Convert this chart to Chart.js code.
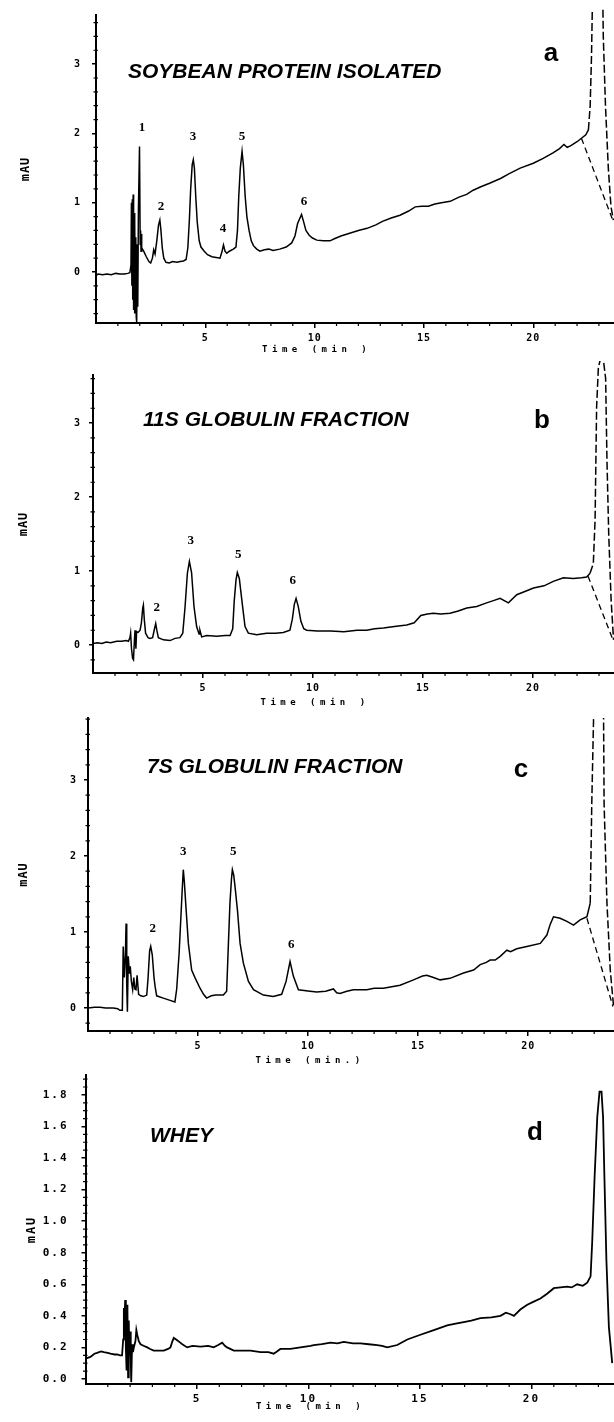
<!DOCTYPE html>
<html>
<head>
<meta charset="utf-8">
<script src="https://cdn.jsdelivr.net/npm/chart.js@4.4.1/dist/chart.umd.min.js"></script>
<style>
html,body{margin:0;padding:0;background:#fff;}
#wrap{position:relative;width:614px;height:1422px;overflow:hidden;background:#fff;}
canvas{position:absolute;left:0;}
</style>
</head>
<body>
<div id="wrap">
<canvas id="pa"></canvas>
<canvas id="pb"></canvas>
<canvas id="pc"></canvas>
<canvas id="pd"></canvas>
</div>
<script>
// ---------- tick labels ----------
const timeTicks = [5, 10, 15, 20];
const timeMinorTicks = [1,2,3,4,6,7,8,9,11,12,13,14,16,17,18,19,21,22,23];
const auTicks = [0, 1, 2, 3];
const auMinorTicks = [-0.6,-0.4,-0.2,0.2,0.4,0.6,0.8,1.2,1.4,1.6,1.8,2.2,2.4,2.6,2.8,3.2,3.4,3.6,3.8];
const wheyTicks = [0, 0.2, 0.4, 0.6, 0.8, 1.0, 1.2, 1.4, 1.6, 1.8];
const wheyMinorTicks = [0.05,0.1,0.15,0.25,0.3,0.35,0.45,0.5,0.55,0.65,0.7,0.75,0.85,0.9,0.95,1.05,1.1,1.15,1.25,1.3,1.35,1.45,1.5,1.55,1.65,1.7,1.75,1.85,1.9];

// ---------- (a) soybean protein isolated : [time min, mAU] ----------
const traceA = [[0,-0.05],[0.1,-0.03],[0.3,-0.04],[0.5,-0.03],[0.7,-0.04],[0.9,-0.02],[1.1,-0.03],[1.3,-0.03],[1.45,-0.02],[1.55,-0.01],
[1.6,0.1],[1.62,1.0],[1.64,-0.2],[1.66,1.05],[1.68,-0.4],[1.7,1.12],[1.72,-0.55],[1.74,0.85],[1.76,-0.6],[1.78,0.7],[1.8,-0.4],[1.82,0.5],[1.84,-0.65],[1.86,-0.72],[1.89,0.4],[1.91,-0.5],[1.94,0.9],[1.99,1.81],[2.02,0.4],[2.04,0.6],[2.06,0.3],[2.08,0.55],[2.1,0.35],
[2.18,0.3],[2.3,0.22],[2.42,0.15],[2.5,0.13],[2.58,0.2],[2.64,0.32],[2.7,0.26],[2.78,0.45],[2.86,0.68],[2.92,0.75],[2.97,0.6],[3.03,0.35],[3.1,0.2],[3.2,0.14],[3.35,0.13],[3.5,0.15],[3.7,0.14],[3.85,0.15],[4.0,0.16],[4.12,0.18],
[4.2,0.35],[4.27,0.75],[4.33,1.2],[4.4,1.55],[4.45,1.62],[4.5,1.5],[4.56,1.1],[4.63,0.72],[4.72,0.45],[4.8,0.36],[4.95,0.3],[5.1,0.25],[5.3,0.22],[5.5,0.21],[5.67,0.2],[5.75,0.28],[5.83,0.39],[5.9,0.3],[5.98,0.27],[6.1,0.3],[6.28,0.33],[6.4,0.36],
[6.47,0.6],[6.53,1.1],[6.6,1.5],[6.68,1.74],[6.74,1.55],[6.82,1.1],[6.9,0.8],[7.0,0.6],[7.1,0.45],[7.2,0.38],[7.35,0.33],[7.5,0.3],[7.7,0.32],[7.9,0.33],[8.1,0.31],[8.4,0.33],[8.7,0.36],[8.95,0.42],[9.1,0.52],[9.22,0.7],[9.4,0.83],[9.5,0.72],[9.6,0.6],[9.75,0.53],[9.9,0.49],
[10.1,0.46],[10.4,0.45],[10.7,0.45],[10.9,0.48],[11.2,0.52],[11.6,0.56],[12.0,0.6],[12.4,0.63],[12.8,0.68],[13.1,0.73],[13.5,0.78],[13.9,0.82],[14.3,0.88],[14.6,0.94],[14.9,0.95],[15.2,0.95],[15.5,0.98],[15.8,1.0],[16.2,1.02],[16.6,1.08],[16.95,1.12],[17.25,1.18],
[17.6,1.23],[18.0,1.28],[18.5,1.35],[18.9,1.42],[19.4,1.5],[20.0,1.57],[20.45,1.64],[20.9,1.72],[21.2,1.78],[21.4,1.84],[21.55,1.8],[21.7,1.82],[22.0,1.88],[22.2,1.93],[22.4,1.98],[22.52,2.05]];
const peakA = [[22.52,2.05],[22.6,2.4],[22.66,3.1],[22.72,4.2],[22.75,4.6],[23.15,4.6],[23.2,3.4],[23.3,2.4],[23.43,1.5],[23.55,0.95],[23.66,0.75]];
const baseA = [[22.2,1.93],[23.62,0.76]];
const peakNumsA = ['1','2','3','4','5','6'];
const peakLabelTimesA = [2.1, 2.97, 4.44, 5.81, 6.68, 9.51];
const peakLabelAUA = [2.08, 0.94, 1.96, 0.63, 1.95, 1.01];

// ---------- (b) 11S globulin fraction ----------
const traceB = [[0,0.02],[0.2,0.03],[0.4,0.02],[0.6,0.04],[0.8,0.03],[1.08,0.05],[1.3,0.05],[1.5,0.06],[1.61,0.05],[1.68,0.1],[1.71,0.16],[1.75,-0.05],[1.8,-0.18],[1.84,-0.2],[1.88,0.05],[1.91,0.2],[1.95,-0.05],[1.98,0.18],[2.05,0.17],[2.14,0.2],
[2.2,0.3],[2.26,0.5],[2.29,0.54],[2.33,0.35],[2.39,0.16],[2.5,0.1],[2.59,0.09],[2.71,0.1],[2.78,0.2],[2.85,0.29],[2.9,0.2],[2.97,0.1],[3.2,0.07],[3.5,0.06],[3.73,0.09],[3.95,0.1],[4.08,0.16],
[4.18,0.5],[4.29,0.97],[4.38,1.13],[4.48,0.98],[4.59,0.52],[4.71,0.25],[4.82,0.15],[4.86,0.2],[4.94,0.11],[5.17,0.13],[5.62,0.12],[6.0,0.13],[6.23,0.13],[6.35,0.22],[6.42,0.6],[6.5,0.88],[6.56,0.98],[6.65,0.9],[6.8,0.52],[6.91,0.25],[7.06,0.16],
[7.44,0.14],[7.89,0.16],[8.3,0.16],[8.65,0.17],[8.95,0.2],[9.06,0.35],[9.15,0.55],[9.23,0.63],[9.33,0.52],[9.45,0.32],[9.58,0.22],[9.71,0.2],[10.2,0.19],[10.8,0.19],[11.4,0.18],[12.0,0.2],[12.44,0.2],[12.8,0.22],[13.2,0.23],[13.7,0.25],[14.26,0.27],
[14.6,0.3],[14.9,0.4],[15.2,0.42],[15.47,0.43],[15.8,0.42],[16.23,0.43],[16.6,0.46],[16.99,0.5],[17.44,0.52],[17.89,0.57],[18.2,0.6],[18.5,0.63],[18.88,0.57],[19.26,0.68],[19.6,0.72],[20.02,0.77],[20.5,0.8],[20.92,0.86],[21.38,0.91],[21.83,0.9],[22.2,0.91],[22.44,0.92],[22.59,0.97]];
const peakB = [[22.59,0.97],[22.74,1.1],[22.82,1.69],[22.89,3.22],[22.97,3.75],[23.05,3.85],[23.2,3.85],[23.3,3.6],[23.36,2.5],[23.44,1.5],[23.55,0.6],[23.66,0.07]];
const baseB = [[22.5,0.93],[23.66,0.05]];
const peakNumsB = ['2','3','5','6'];
const peakLabelTimesB = [2.9, 4.44, 6.6, 9.08];
const peakLabelAUB = [0.5, 1.41, 1.22, 0.87];

// ---------- (c) 7S globulin fraction ----------
const traceC = [[0,0.0],[0.3,0.01],[0.55,0.01],[0.8,0.0],[1.15,0.0],[1.35,-0.01],[1.45,-0.03],[1.56,-0.03],[1.6,0.81],[1.65,0.4],[1.7,0.7],[1.73,1.11],[1.76,0.3],[1.79,-0.05],[1.83,0.68],[1.88,0.45],[1.92,0.55],[1.97,0.35],[2.03,0.24],[2.08,0.4],[2.13,0.25],[2.18,0.24],[2.23,0.43],[2.3,0.18],
[2.4,0.16],[2.52,0.15],[2.67,0.17],[2.73,0.4],[2.8,0.75],[2.85,0.81],[2.92,0.7],[3.0,0.4],[3.05,0.28],[3.12,0.16],[3.42,0.13],[3.73,0.1],[3.95,0.08],[4.03,0.25],[4.1,0.55],[4.14,0.72],[4.23,1.25],[4.28,1.55],[4.33,1.82],[4.38,1.65],[4.45,1.33],[4.56,0.85],
[4.71,0.5],[4.86,0.4],[5.09,0.26],[5.25,0.18],[5.39,0.13],[5.6,0.16],[5.8,0.17],[6.15,0.17],[6.3,0.22],[6.38,0.85],[6.45,1.38],[6.52,1.7],[6.56,1.82],[6.62,1.75],[6.68,1.6],[6.79,1.29],[6.91,0.85],[7.06,0.59],[7.29,0.35],[7.52,0.24],[7.97,0.17],[8.42,0.15],
[8.8,0.18],[9.0,0.35],[9.18,0.61],[9.33,0.42],[9.56,0.24],[10.09,0.22],[10.39,0.21],[10.8,0.22],[11.15,0.25],[11.3,0.2],[11.45,0.19],[11.76,0.22],[12.06,0.24],[12.67,0.24],[13.0,0.26],[13.42,0.26],[13.8,0.28],[14.18,0.3],[14.79,0.37],[15.2,0.42],[15.39,0.43],
[15.7,0.4],[16.0,0.37],[16.45,0.39],[17.06,0.46],[17.52,0.5],[17.82,0.57],[18.1,0.6],[18.27,0.63],[18.5,0.63],[18.73,0.68],[19.03,0.76],[19.2,0.74],[19.48,0.78],[19.94,0.81],[20.55,0.85],[20.85,0.96],[21.0,1.1],[21.15,1.2],[21.45,1.18],[21.76,1.14],[22.06,1.09],[22.36,1.16],[22.67,1.2],[22.82,1.38]];
const peakC = [[22.82,1.38],[22.89,2.69],[22.97,3.79],[23.0,4.1],[23.42,4.1],[23.45,2.69],[23.58,1.38],[23.73,0.5],[23.88,0.02]];
const baseC = [[22.67,1.18],[23.85,0.02]];
const peakNumsC = ['2','3','5','6'];
const peakLabelTimesC = [2.94, 4.33, 6.6, 9.23];
const peakLabelAUC = [1.05, 2.06, 2.06, 0.83];

// ---------- (d) whey ----------
const traceD = [[0.04,0.13],[0.22,0.14],[0.4,0.16],[0.52,0.165],[0.7,0.175],[0.82,0.17],[1.0,0.165],[1.12,0.16],[1.3,0.155],[1.42,0.155],[1.55,0.15],[1.64,0.15],[1.69,0.25],[1.72,0.45],[1.75,0.39],[1.78,0.5],[1.81,0.2],[1.84,0.06],[1.86,0.4],[1.88,0.47],[1.91,0.01],[1.94,0.37],[1.97,0.15],[2.0,0.3],[2.03,0.12],[2.05,-0.02],[2.09,0.22],[2.13,0.17],[2.17,0.2],
[2.24,0.24],[2.28,0.31],[2.32,0.28],[2.39,0.24],[2.47,0.22],[2.6,0.21],[2.77,0.2],[2.9,0.19],[3.06,0.18],[3.3,0.18],[3.51,0.18],[3.7,0.19],[3.81,0.2],[3.9,0.24],[3.96,0.26],[4.11,0.245],[4.25,0.23],[4.34,0.22],[4.56,0.2],[4.8,0.21],[5.16,0.205],[5.5,0.21],[5.75,0.2],[5.95,0.215],[6.13,0.23],[6.25,0.21],[6.35,0.2],
[6.65,0.18],[7.0,0.18],[7.4,0.18],[7.85,0.17],[8.2,0.17],[8.44,0.16],[8.6,0.175],[8.74,0.19],[9.0,0.19],[9.19,0.19],[9.64,0.2],[10.09,0.21],[10.24,0.215],[10.6,0.22],[10.99,0.23],[11.3,0.225],[11.58,0.235],[12.0,0.225],[12.33,0.225],[12.7,0.22],[13.08,0.215],[13.3,0.21],[13.53,0.2],[13.98,0.215],
[14.43,0.25],[15.02,0.28],[15.62,0.31],[16.22,0.34],[16.6,0.35],[16.96,0.36],[17.3,0.37],[17.71,0.385],[18.2,0.39],[18.61,0.4],[18.85,0.42],[19.06,0.41],[19.21,0.4],[19.5,0.44],[19.81,0.47],[20.1,0.49],[20.4,0.51],[20.7,0.54],[21.0,0.575],[21.3,0.58],[21.6,0.585],[21.8,0.58],[22.05,0.6],[22.3,0.59],[22.5,0.61],[22.65,0.65],
[22.72,0.86],[22.83,1.28],[22.95,1.66],[23.05,1.82],[23.14,1.82],[23.21,1.66],[23.27,1.28],[23.36,0.75],[23.47,0.33],[23.62,0.1]];

// ---------- rendering ----------
const MONO = '"DejaVu Sans Mono", monospace';
function pts(a){ return a.map(p => ({x:p[0], y:p[1]})); }

const panels = [
 {id:'pa', top:0, h:358, axisX:96, chartTop:15, axisY:323, xMax:23.69, yMin:-0.736, yMax:3.709,
  yTicks:auTicks, yMinor:auMinorTicks, yDec:0, yFont:10, yPad:11, xFont:10, xPad:4, spacing:'1px', lw:1.5, titlePad:19,
  trace:traceA, peak:peakA, base:baseA, peakDash:[8,3], peakClip:{left:0,top:6,right:0,bottom:0},
  title:'SOYBEAN PROTEIN ISOLATED', titleX:128, titleY:77.5, letter:'a', letterX:551, letterY:61,
  timeTitle:'Time (min )', timeY:350, nums:peakNumsA, numT:peakLabelTimesA, numV:peakLabelAUA},
 {id:'pb', top:358, h:352, axisX:93, chartTop:17, axisY:315, xMax:23.68, yMin:-0.378, yMax:3.649,
  yTicks:auTicks, yMinor:auMinorTicks, yDec:0, yFont:10, yPad:8, xFont:10, xPad:4, spacing:'1px', lw:1.5, titlePad:17,
  trace:traceB, peak:peakB, base:baseB, peakDash:[8,3], peakClip:{left:0,top:14,right:0,bottom:0},
  title:'11S GLOBULIN FRACTION', titleX:143, titleY:67.5, letter:'b', letterX:542, letterY:70.4,
  timeTitle:'Time (min )', timeY:345, nums:peakNumsB, numT:peakLabelTimesB, numV:peakLabelAUB},
 {id:'pc', top:710, h:360, axisX:88, chartTop:8, axisY:321, xMax:23.9, yMin:-0.303, yMax:3.816,
  yTicks:auTicks, yMinor:auMinorTicks, yDec:0, yFont:10, yPad:7, xFont:10, xPad:4, spacing:'1px', lw:1.5, titlePad:17,
  trace:traceC, peak:peakC, base:baseC, peakDash:[8,3], peakClip:undefined,
  title:'7S GLOBULIN FRACTION', titleX:147, titleY:62.5, letter:'c', letterX:521, letterY:66.8,
  timeTitle:'Time (min.)', timeY:351, nums:peakNumsC, numT:peakLabelTimesC, numV:peakLabelAUC},
 {id:'pd', top:1070, h:352, axisX:85.5, chartTop:5, axisY:314, xMax:23.7, yMin:-0.032, yMax:1.926,
  yTicks:wheyTicks, yMinor:wheyMinorTicks, yDec:1, yFont:11, yPad:13, xFont:11, xPad:4, spacing:'2px', lw:1.8, titlePad:25,
  trace:traceD, peak:null, base:null, peakDash:[], peakClip:undefined,
  title:'WHEY', titleX:150, titleY:71.5, letter:'d', letterX:535, letterY:70.4,
  timeTitle:'Time (min )', timeY:337, nums:[], numT:[], numV:[]}
];

const deco = {
  id:'deco',
  beforeDraw(chart){ chart.ctx.letterSpacing = chart.$p.spacing; },
  afterDraw(chart){
    const p = chart.$p, ctx = chart.ctx, xs = chart.scales.x, ys = chart.scales.y;
    ctx.save();
    ctx.letterSpacing = '0px';
    ctx.strokeStyle = '#000'; ctx.fillStyle = '#000'; ctx.lineWidth = 1.2;
    ctx.beginPath();
    timeMinorTicks.forEach(t => { if (t > xs.max) return; const px = xs.getPixelForValue(t); ctx.moveTo(px, xs.top); ctx.lineTo(px, xs.top + 3); });
    p.yMinor.forEach(v => { if (v < ys.min || v > ys.max) return; const py = ys.getPixelForValue(v); ctx.moveTo(ys.right - 2.5, py); ctx.lineTo(ys.right + 2, py); });
    ctx.stroke();
    // sample title
    ctx.font = 'italic bold 21px "Liberation Sans", Arial, sans-serif';
    ctx.textAlign = 'left'; ctx.textBaseline = 'alphabetic';
    ctx.fillText(p.title, p.titleX, p.titleY);
    // panel letter
    ctx.font = 'bold 26px "Liberation Sans", Arial, sans-serif';
    ctx.textAlign = 'center';
    ctx.fillText(p.letter, p.letterX, p.letterY);
    // peak numbers
    ctx.font = 'bold 13px "Liberation Serif", serif';
    ctx.textBaseline = 'middle';
    p.nums.forEach((n, i) => ctx.fillText(n, xs.getPixelForValue(p.numT[i]), ys.getPixelForValue(p.numV[i])));
    // time axis title
    ctx.font = 'bold 9px ' + MONO;
    ctx.letterSpacing = '4.5px';
    ctx.fillText(p.timeTitle, xs.getPixelForValue(10) + 2, p.timeY);
    ctx.restore();
    ctx.letterSpacing = '0px';
  }
};

panels.forEach(p => {
  const cv = document.getElementById(p.id);
  cv.width = 614; cv.height = p.h;
  cv.style.width = '614px'; cv.style.height = p.h + 'px'; cv.style.top = p.top + 'px';
  const datasets = [{data:pts(p.trace), borderColor:'#000', borderWidth:p.lw, pointRadius:0, tension:0, fill:false}];
  if (p.peak) datasets.push({data:pts(p.peak), borderColor:'#000', borderWidth:p.lw, borderDash:p.peakDash, pointRadius:0, tension:0, fill:false, clip:p.peakClip});
  if (p.base) datasets.push({data:pts(p.base), borderColor:'#000', borderWidth:1.3, borderDash:[6,4], pointRadius:0, tension:0, fill:false});
  new Chart(cv, {
    type:'line',
    data:{datasets},
    options:{
      responsive:false, animation:false, devicePixelRatio:1, events:[],
      layout:{padding:{top:p.chartTop, left:0, right:0, bottom:0}},
      plugins:{legend:{display:false}, tooltip:{enabled:false}},
      scales:{
        x:{type:'linear', min:0, max:p.xMax,
          afterBuildTicks:s => { s.ticks = timeTicks.map(v => ({value:v})); },
          afterFit:s => { s.height = p.h - p.axisY; s.paddingLeft = 0; s.paddingRight = 0; },
          ticks:{color:'#000', font:{family:MONO, weight:'bold', size:p.xFont}, padding:p.xPad, maxRotation:0, autoSkip:false, callback:v => String(v)},
          grid:{drawOnChartArea:false, drawTicks:true, tickLength:5, color:'#000', lineWidth:1.5},
          border:{display:true, color:'#000', width:2}
        },
        y:{type:'linear', min:p.yMin, max:p.yMax,
          afterBuildTicks:s => { s.ticks = p.yTicks.map(v => ({value:v})); },
          afterFit:s => { s.width = p.axisX; s.paddingTop = 0; s.paddingBottom = 0; },
          ticks:{color:'#000', font:{family:MONO, weight:'bold', size:p.yFont}, padding:p.yPad, autoSkip:false, callback:v => v.toFixed(p.yDec)},
          grid:{drawOnChartArea:false, drawTicks:true, tickLength:4, color:'#000', lineWidth:1.5},
          border:{display:true, color:'#000', width:2},
          title:{display:true, text:'mAU', color:'#000', font:{family:MONO, weight:'bold', size:12}, padding:{top:p.titlePad, bottom:0}}
        }
      }
    },
    plugins:[{id:'attach', beforeInit(c){ c.$p = p; }}, deco]
  });
});
</script>
</body>
</html>
